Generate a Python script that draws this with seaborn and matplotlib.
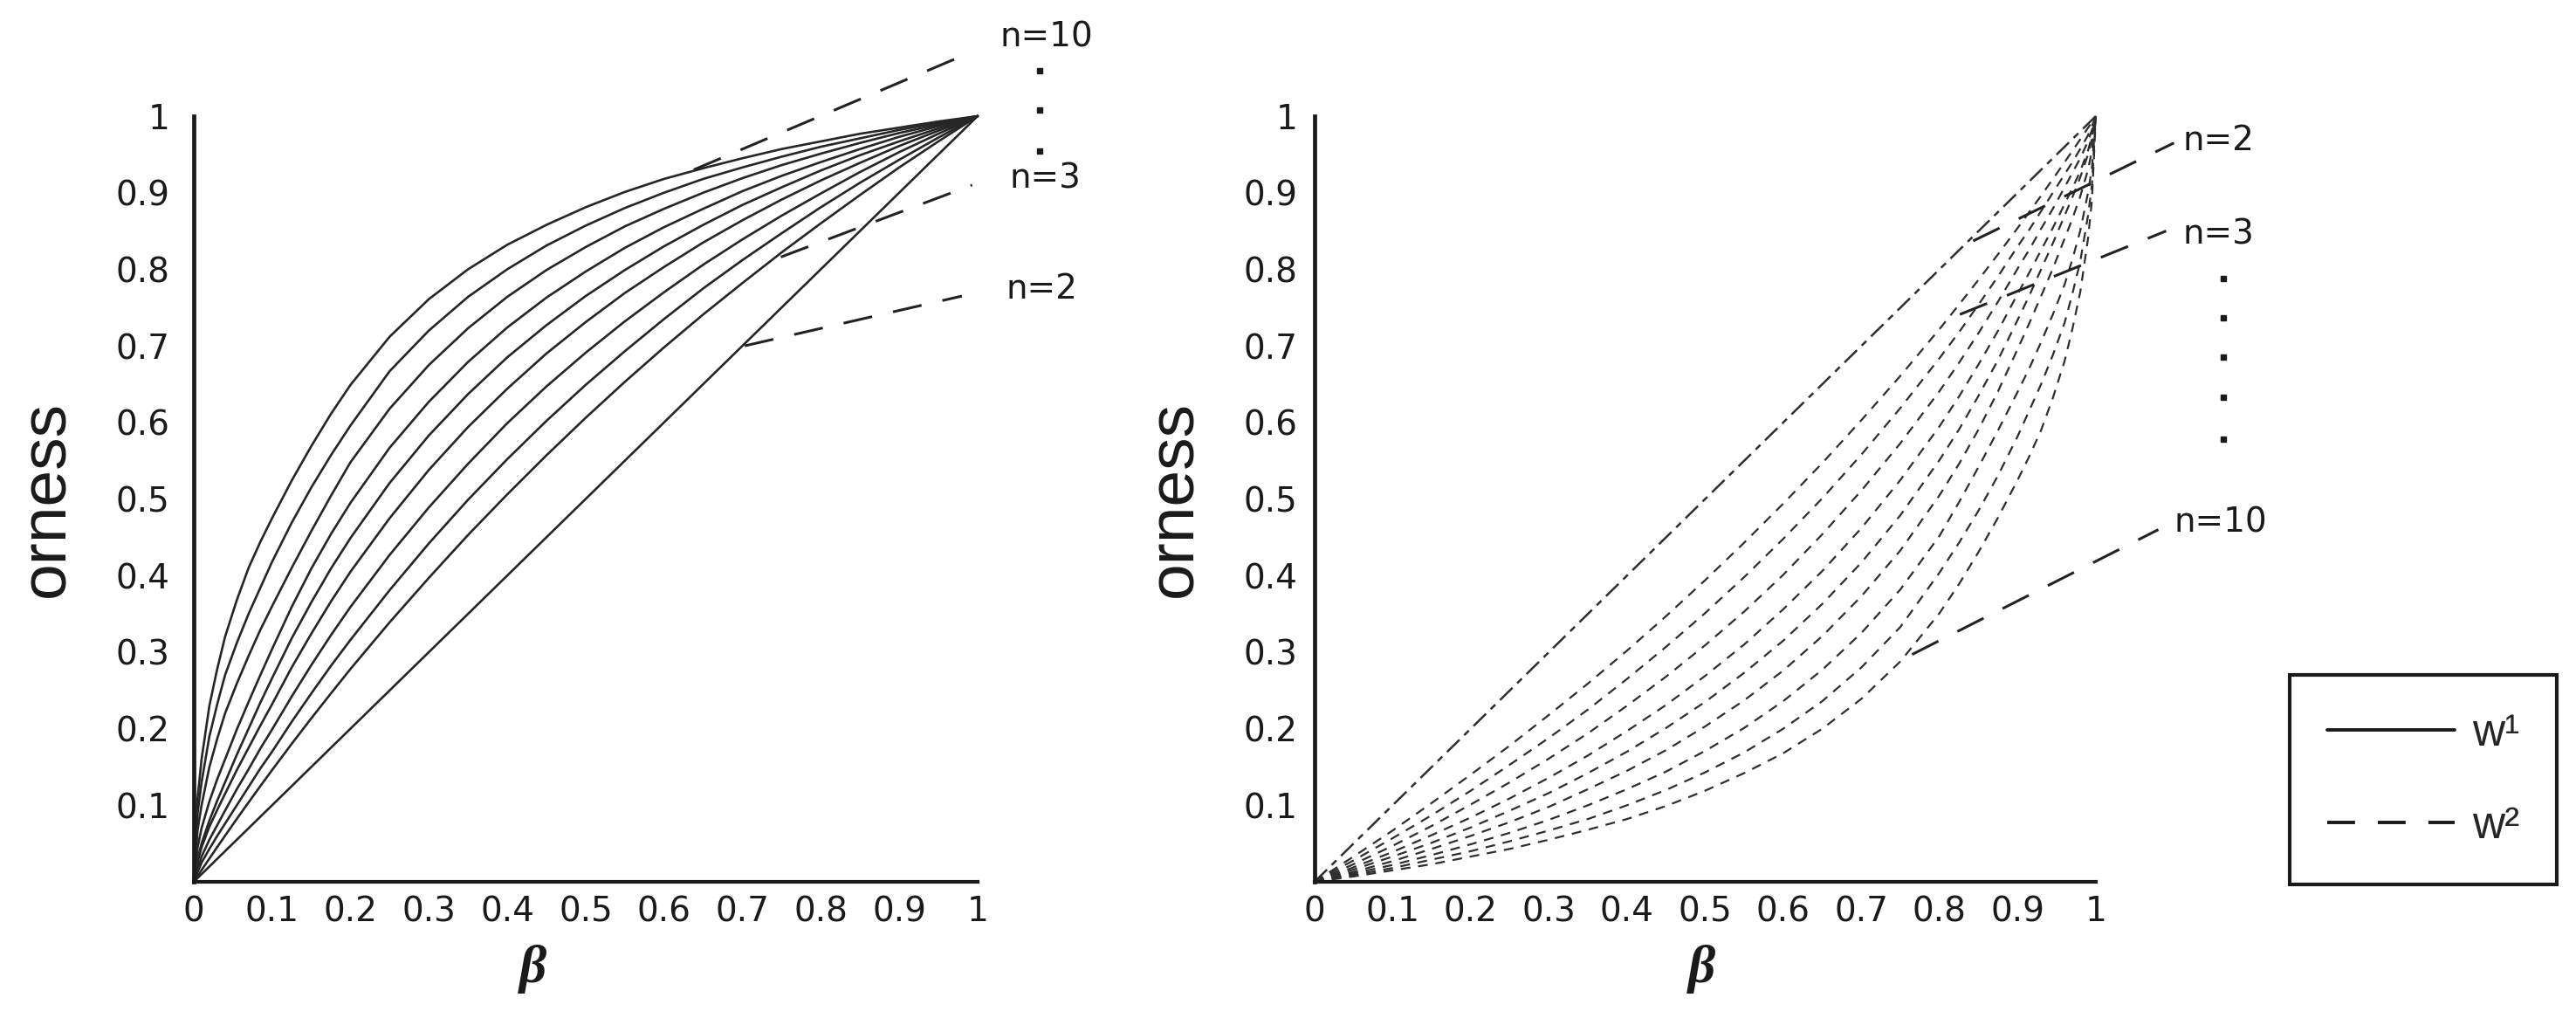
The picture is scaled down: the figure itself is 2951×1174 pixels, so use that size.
import pandas as pd
import matplotlib.pyplot as plt
import seaborn as sns
from matplotlib.lines import Line2D

# ---- w1 curves (left panel), lowest curve first ----
beta_w1 = [0, 0.005, 0.01, 0.02, 0.03, 0.04, 0.055, 0.07, 0.085, 0.1, 0.125, 0.15, 0.175, 0.2, 0.25,
           0.3, 0.35, 0.4, 0.45, 0.5, 0.55, 0.6, 0.65, 0.7, 0.75, 0.8, 0.85, 0.9, 0.95, 1]
w1_1 = [0, 0.005, 0.01, 0.02, 0.03, 0.04, 0.055, 0.07, 0.085, 0.1, 0.125, 0.15, 0.175, 0.2, 0.25,
        0.3, 0.35, 0.4, 0.45, 0.5, 0.55, 0.6, 0.65, 0.7, 0.75, 0.8, 0.85, 0.9, 0.95, 1]
w1_2 = [0, 0.0077, 0.0153, 0.0304, 0.0454, 0.0602, 0.0822, 0.1038, 0.125, 0.146, 0.1802, 0.2135, 0.246, 0.278, 0.339,
        0.397, 0.453, 0.506, 0.557, 0.606, 0.653, 0.698, 0.741, 0.782, 0.822, 0.860, 0.897, 0.933, 0.967, 1]
w1_3 = [0, 0.013, 0.025, 0.043, 0.060, 0.076, 0.100, 0.124, 0.148, 0.170, 0.209, 0.246, 0.282, 0.316, 0.381,
        0.442, 0.499, 0.552, 0.602, 0.649, 0.693, 0.735, 0.775, 0.812, 0.847, 0.881, 0.913, 0.943, 0.972, 1]
w1_4 = [0, 0.018, 0.033, 0.055, 0.074, 0.093, 0.121, 0.147, 0.174, 0.199, 0.242, 0.283, 0.322, 0.359, 0.427,
        0.489, 0.546, 0.599, 0.647, 0.691, 0.732, 0.770, 0.806, 0.839, 0.870, 0.899, 0.927, 0.953, 0.977, 1]
w1_5 = [0, 0.026, 0.045, 0.072, 0.094, 0.115, 0.146, 0.175, 0.204, 0.232, 0.280, 0.324, 0.366, 0.405, 0.475,
        0.538, 0.594, 0.644, 0.690, 0.731, 0.769, 0.803, 0.835, 0.864, 0.891, 0.916, 0.939, 0.961, 0.981, 1]
w1_6 = [0, 0.030, 0.050, 0.080, 0.106, 0.130, 0.166, 0.200, 0.234, 0.266, 0.318, 0.365, 0.409, 0.449, 0.521,
        0.583, 0.637, 0.685, 0.727, 0.765, 0.799, 0.830, 0.858, 0.884, 0.907, 0.929, 0.949, 0.967, 0.984, 1]
w1_7 = [0, 0.045, 0.070, 0.105, 0.134, 0.160, 0.199, 0.235, 0.270, 0.304, 0.359, 0.409, 0.454, 0.495, 0.567,
        0.627, 0.679, 0.724, 0.763, 0.797, 0.828, 0.855, 0.879, 0.902, 0.922, 0.940, 0.957, 0.973, 0.987, 1]
w1_8 = [0, 0.068, 0.100, 0.150, 0.187, 0.220, 0.259, 0.295, 0.329, 0.360, 0.410, 0.458, 0.504, 0.548, 0.618,
        0.675, 0.723, 0.764, 0.799, 0.829, 0.856, 0.879, 0.900, 0.919, 0.936, 0.951, 0.965, 0.978, 0.989, 1]
w1_9 = [0, 0.090, 0.130, 0.190, 0.232, 0.270, 0.312, 0.350, 0.384, 0.418, 0.469, 0.515, 0.557, 0.596, 0.667,
        0.720, 0.764, 0.800, 0.831, 0.857, 0.880, 0.900, 0.918, 0.933, 0.947, 0.960, 0.971, 0.982, 0.991, 1]
w1_10 = [0, 0.110, 0.160, 0.230, 0.278, 0.320, 0.368, 0.410, 0.444, 0.475, 0.524, 0.569, 0.611, 0.649, 0.712,
         0.761, 0.800, 0.832, 0.858, 0.881, 0.901, 0.918, 0.932, 0.945, 0.957, 0.967, 0.977, 0.985, 0.993, 1]

# ---- w2 curves (right panel), top line first ----
beta_w2 = [0, 0.05, 0.1, 0.15, 0.2, 0.25, 0.3, 0.35, 0.4, 0.45, 0.5, 0.55, 0.6, 0.65, 0.7,
           0.75, 0.8, 0.825, 0.85, 0.875, 0.9, 0.915, 0.93, 0.945, 0.96, 0.97, 0.98, 0.99, 0.995, 1]
w2_1 = [0, 0.05, 0.1, 0.15, 0.2, 0.25, 0.3, 0.35, 0.4, 0.45, 0.5, 0.55, 0.6, 0.65, 0.7,
        0.75, 0.8, 0.825, 0.85, 0.875, 0.9, 0.915, 0.93, 0.945, 0.96, 0.97, 0.98, 0.99, 0.995, 1]
w2_2 = [0, 0.033, 0.067, 0.103, 0.140, 0.178, 0.218, 0.259, 0.302, 0.347, 0.394, 0.443, 0.494, 0.547, 0.603,
        0.661, 0.722, 0.754, 0.7865, 0.8198, 0.854, 0.875, 0.8962, 0.9178, 0.9398, 0.9546, 0.9696, 0.9847, 0.9923, 1]
w2_3 = [0, 0.028, 0.057, 0.087, 0.119, 0.153, 0.188, 0.225, 0.265, 0.307, 0.351, 0.398, 0.448, 0.501, 0.558,
        0.619, 0.684, 0.718, 0.754, 0.791, 0.830, 0.852, 0.876, 0.900, 0.924, 0.940, 0.957, 0.975, 0.987, 1]
w2_4 = [0, 0.023, 0.047, 0.073, 0.101, 0.130, 0.161, 0.194, 0.230, 0.268, 0.309, 0.353, 0.401, 0.454, 0.511,
        0.573, 0.641, 0.678, 0.717, 0.758, 0.801, 0.826, 0.853, 0.879, 0.907, 0.926, 0.945, 0.967, 0.982, 1]
w2_5 = [0, 0.019, 0.039, 0.061, 0.084, 0.109, 0.136, 0.165, 0.197, 0.231, 0.269, 0.310, 0.356, 0.406, 0.462,
        0.525, 0.595, 0.634, 0.676, 0.720, 0.768, 0.796, 0.825, 0.854, 0.885, 0.906, 0.928, 0.955, 0.974, 1]
w2_6 = [0, 0.016, 0.033, 0.051, 0.071, 0.093, 0.116, 0.142, 0.170, 0.201, 0.235, 0.273, 0.315, 0.363, 0.417,
        0.479, 0.551, 0.591, 0.635, 0.682, 0.734, 0.766, 0.800, 0.834, 0.870, 0.894, 0.920, 0.950, 0.970, 1]
w2_7 = [0, 0.013, 0.027, 0.043, 0.060, 0.078, 0.098, 0.121, 0.145, 0.172, 0.203, 0.237, 0.276, 0.321, 0.373,
        0.433, 0.505, 0.546, 0.591, 0.641, 0.696, 0.730, 0.765, 0.801, 0.840, 0.866, 0.895, 0.930, 0.955, 1]
w2_8 = [0, 0.011, 0.022, 0.035, 0.049, 0.064, 0.081, 0.100, 0.121, 0.144, 0.171, 0.201, 0.236, 0.277, 0.325,
        0.382, 0.452, 0.496, 0.542, 0.590, 0.640, 0.671, 0.705, 0.741, 0.780, 0.813, 0.850, 0.900, 0.932, 1]
w2_9 = [0, 0.009, 0.018, 0.029, 0.040, 0.053, 0.067, 0.082, 0.100, 0.120, 0.143, 0.169, 0.200, 0.236, 0.280,
        0.333, 0.404, 0.443, 0.485, 0.531, 0.582, 0.616, 0.650, 0.688, 0.730, 0.768, 0.810, 0.870, 0.910, 1]
w2_10 = [0, 0.007, 0.015, 0.023, 0.033, 0.043, 0.055, 0.068, 0.082, 0.099, 0.119, 0.142, 0.168, 0.200, 0.239,
         0.288, 0.351, 0.389, 0.431, 0.476, 0.525, 0.556, 0.590, 0.632, 0.680, 0.722, 0.770, 0.840, 0.890, 1]

x_ticks = [0, 0.1, 0.2, 0.3, 0.4, 0.5, 0.6, 0.7, 0.8, 0.9, 1]
x_tick_labels = ['0', '0.1', '0.2', '0.3', '0.4', '0.5', '0.6', '0.7', '0.8', '0.9', '1']
y_ticks = [0.1, 0.2, 0.3, 0.4, 0.5, 0.6, 0.7, 0.8, 0.9, 1]
y_tick_labels = ['0.1', '0.2', '0.3', '0.4', '0.5', '0.6', '0.7', '0.8', '0.9', '1']

# annotations: n labels, leader lines and dots (data coordinates)
left_labels = ['n=10', 'n=3', 'n=2']
left_label_xy = [(1.028, 1.103), (1.041, 0.919), (1.036, 0.774)]
left_leader_x = [[0.638, 0.995], [0.749, 0.993], [0.703, 0.980]]
left_leader_y = [[0.930, 1.085], [0.816, 0.910], [0.700, 0.765]]
left_dots_x = [1.079, 1.079, 1.079]
left_dots_y = [1.059, 1.008, 0.954]

right_labels = ['n=2', 'n=3', 'n=10']
right_label_xy = [(1.111, 0.968), (1.111, 0.846), (1.100, 0.469)]
right_leader_x = [[0.843, 1.100], [0.826, 1.090], [0.765, 1.080]]
right_leader_y = [[0.837, 0.965], [0.741, 0.850], [0.297, 0.460]]
right_dots_x = [1.163, 1.163, 1.163, 1.163, 1.163]
right_dots_y = [0.788, 0.737, 0.685, 0.633, 0.578]

sns.set_theme(style='white')
plt.rcParams['font.family'] = ['DejaVu Sans']
ink = '#1a1a1a'

w1_curves = [w1_1, w1_2, w1_3, w1_4, w1_5, w1_6, w1_7, w1_8, w1_9, w1_10]
w2_curves = [w2_2, w2_3, w2_4, w2_5, w2_6, w2_7, w2_8, w2_9, w2_10]

df1 = pd.concat([pd.DataFrame({'beta': beta_w1, 'orness': v, 'curve': f'c{i}'})
                 for i, v in enumerate(w1_curves)])
df2 = pd.concat([pd.DataFrame({'beta': beta_w2, 'orness': v, 'curve': f'c{i}'})
                 for i, v in enumerate(w2_curves)])
df2_top = pd.DataFrame({'beta': beta_w2, 'orness': w2_1})

fig = plt.figure(figsize=(29.51, 11.74), dpi=100)
ax1 = fig.add_axes([0.0752, 0.1397, 0.3043, 0.747])
ax2 = fig.add_axes([0.5103, 0.1397, 0.3033, 0.747])

# left panel: w1, solid
sns.lineplot(data=df1, x='beta', y='orness', hue='curve', palette=['#262626'] * 10,
             estimator=None, errorbar=None, lw=1.9, legend=False, ax=ax1, clip_on=False)

# right panel: w2, dashed
sns.lineplot(data=df2, x='beta', y='orness', hue='curve', palette=['#2e2e2e'] * 9,
             estimator=None, errorbar=None, lw=1.6, linestyle=(0, (5, 4)),
             legend=False, ax=ax2, clip_on=False)
sns.lineplot(data=df2_top, x='beta', y='orness', color='#2e2e2e', estimator=None,
             errorbar=None, lw=1.8, linestyle=(0, (8, 3, 3, 3)), ax=ax2, clip_on=False)

for ax, lab, lab_xy, lx, ly, dx, dy, ypad, bx in [
        (ax1, left_labels, left_label_xy, left_leader_x, left_leader_y, left_dots_x, left_dots_y, 20, 0.433),
        (ax2, right_labels, right_label_xy, right_leader_x, right_leader_y, right_dots_x, right_dots_y, 14, 0.496)]:
    ax.set_xlim(0, 1)
    ax.set_ylim(0, 1)
    ax.set_xticks(x_ticks)
    ax.set_xticklabels(x_tick_labels)
    ax.set_yticks(y_ticks)
    ax.set_yticklabels(y_tick_labels)
    sns.despine(ax=ax)
    ax.spines['left'].set_linewidth(3.4)
    ax.spines['bottom'].set_linewidth(3.0)
    for s in ['left', 'bottom']:
        ax.spines[s].set_color(ink)
    ax.tick_params(direction='in', length=14, width=1.8, color=ink,
                   labelsize=28, labelcolor=ink)
    ax.tick_params(axis='x', pad=11)
    ax.tick_params(axis='y', pad=ypad)

    ax.set_xlabel('β', fontfamily='Liberation Serif', fontstyle='italic',
                  fontweight='bold', fontsize=44, color=ink)
    ax.xaxis.set_label_coords(bx, -0.114)
    ax.xaxis.label.set_verticalalignment('center')
    ax.set_ylabel('orness', fontfamily='Liberation Sans', fontsize=54, color=ink)

    for (tx, ty), s in zip(lab_xy, lab):
        ax.text(tx, ty, s, fontsize=28, ha='left', va='center', color=ink, clip_on=False)
    for xs, ys in zip(lx, ly):
        ax.plot(xs, ys, color='#222222', lw=2.2, linestyle=(0, (11, 8)), clip_on=False)
    ax.plot(dx, dy, ls='none', marker='s', ms=4.5, color=ink, clip_on=False)

ax1.yaxis.set_label_coords(-0.149, 0.5)
ax2.yaxis.set_label_coords(-0.140, 0.5)

handles = [Line2D([], [], color=ink, lw=2.8),
           Line2D([], [], color=ink, lw=2.8, linestyle=(0, (8.2, 6.7)))]
leg = fig.legend(handles, ['w¹', 'w²'], loc='lower left', bbox_to_anchor=(0.889, 0.137),
                 bbox_transform=fig.transFigure, borderaxespad=0, frameon=True,
                 fancybox=False, edgecolor=ink, framealpha=1, handlelength=2.84,
                 handletextpad=0.39, borderpad=0.83, labelspacing=1.1,
                 prop={'family': 'Liberation Sans', 'size': 37})
leg.get_frame().set_linewidth(3)

fig.savefig('out.png', dpi=100)
